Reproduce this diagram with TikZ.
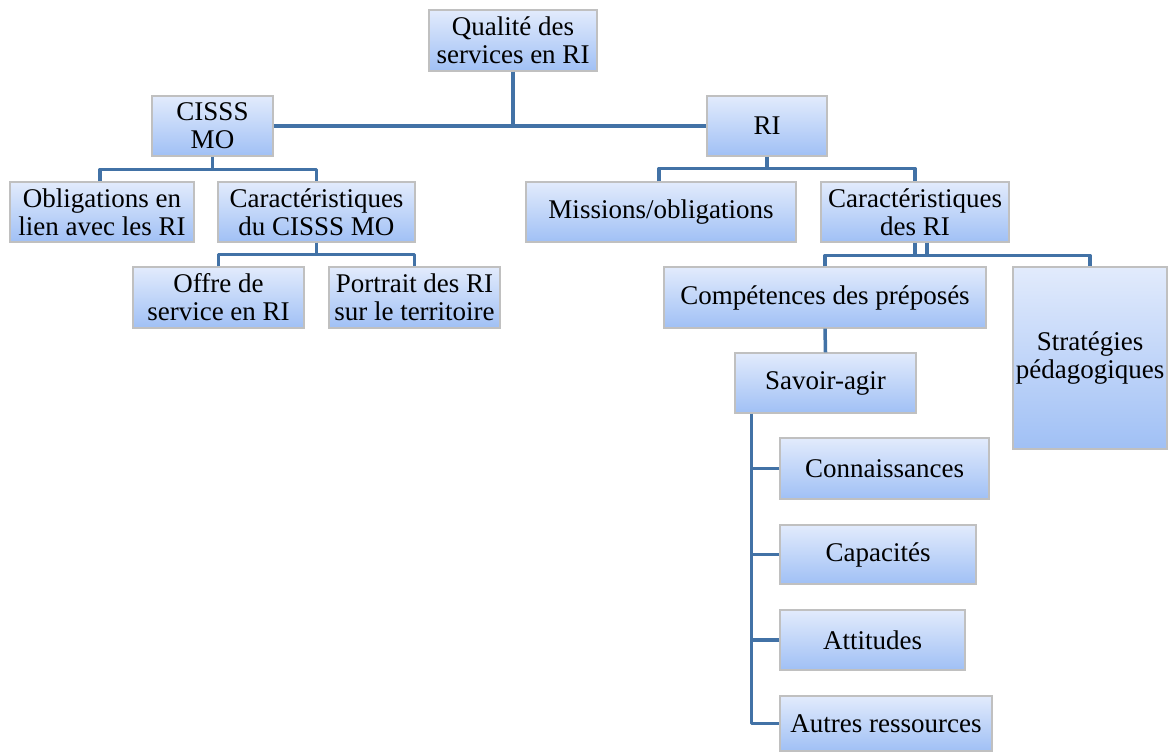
\documentclass[tikz,border=0pt]{standalone}
\usepackage{fontspec}
\setmainfont{Liberation Serif}
\usetikzlibrary{calc}
\definecolor{lineblue}{RGB}{66,114,166}
\definecolor{boxtop}{RGB}{226,235,252}
\definecolor{boxbot}{RGB}{160,192,245}
\definecolor{boxborder}{RGB}{192,192,192}
\begin{document}
\begin{tikzpicture}[x=0.5pt,y=-0.5pt,
  bx/.style n args={2}{draw=boxborder, line width=0.6pt, top color=boxtop, bottom color=boxbot,
    minimum width=#1*0.5pt, minimum height=#2*0.5pt, inner sep=0pt, align=center,
    font=\fontsize{13.5}{13.9}\selectfont},
  link/.style={draw=lineblue, line width=1.75pt, line join=round}]
\path[use as bounding box, fill=white] (0,0) rectangle (1171,752);

\node[bx={168}{61}] (q) at (513,40.5) {Qualité des\\services en RI};
\node[bx={121}{60}] (cisss) at (212.5,126) {CISSS\\MO};
\node[bx={120}{60}] (ri) at (767,126) {RI};
\node[bx={184}{60}] (obl) at (102,212) {Obligations en\\lien avec les RI};
\node[bx={197}{60}] (carc) at (316.5,212) {Caractéristiques\\du CISSS MO};
\node[bx={171}{61}] (offre) at (218.5,297.5) {Offre de\\service en RI};
\node[bx={171}{61}] (portrait) at (414.5,297.5) {Portrait des RI\\sur le territoire};
\node[bx={270}{60}] (miss) at (661,212) {Missions/obligations};
\node[bx={188}{60}] (carri) at (915,212) {Caractéristiques\\des RI};
\node[bx={322}{61}] (comp) at (825,297.5) {Compétences des préposés};
\node[bx={154}{182}] (strat) at (1090,358) {Stratégies\\pédagogiques};
\node[bx={181}{60}] (sav) at (825.5,383) {Savoir-agir};
\node[bx={209}{61}] (kno) at (884.5,468.5) {Connaissances};
\node[bx={196}{59}] (cap) at (878,554.5) {Capacités};
\node[bx={185}{60}] (att) at (872.5,640) {Attitudes};
\node[bx={212}{55}] (autres) at (886,723.5) {Autres ressources};

% top level
\draw[link] (q.south) -- (q.south |- cisss.east);
\draw[link] (cisss.east) -- (ri.west);
% CISSS MO branch
\draw[link] (cisss.south) -- ++(0,13);
\draw[link] ($(obl.north)+(-2,0)$) |- ($(cisss.south)+(0,13)$) -| (carc.north);
\draw[link] (carc.south) -- ++(0,12);
\draw[link] (offre.north) |- ($(carc.south)+(0,12)$) -| (portrait.north);
% RI branch
\draw[link] (ri.south) -- ++(0,12);
\draw[link] ($(miss.north)+(-2,0)$) |- ($(ri.south)+(0,12)$) -| (carri.north);
\draw[link] (carri.south) -- ++(0,13);
\draw[link] ($(carri.south)+(12,0)$) -- ++(0,13);
\draw[link] (comp.north) |- ($(carri.south)+(0,13)$) -| (strat.north);
\draw[link] (comp.south) -- (sav.north);
\coordinate (trunk) at ($(sav.south west)+(17,0)$);
\draw[link] (trunk) |- (autres.west);
\draw[link] (kno.west) -- (kno.west -| trunk);
\draw[link] (cap.west) -- (cap.west -| trunk);
\draw[link] (att.west) -- (att.west -| trunk);
\end{tikzpicture}
\end{document}
